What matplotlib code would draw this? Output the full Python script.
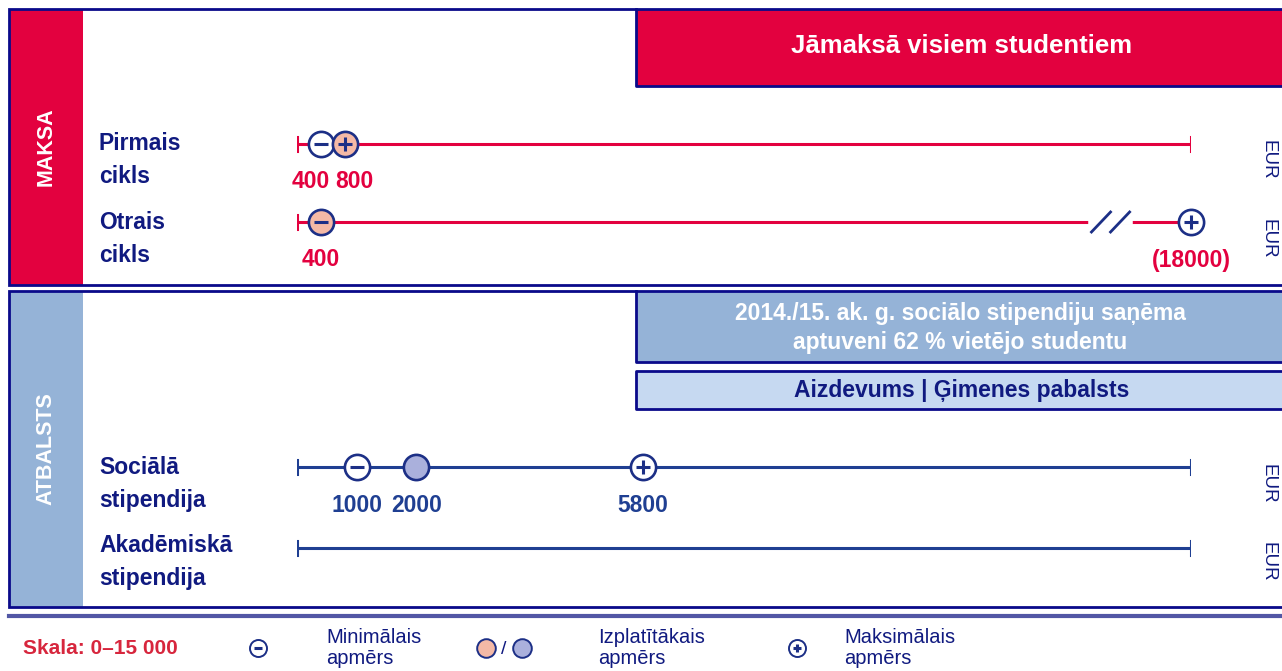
import matplotlib
matplotlib.use('Agg')
import matplotlib.pyplot as plt
from matplotlib.patches import Rectangle

# --- data ---
rows = ['Pirmais\ncikls', 'Otrais\ncikls', 'Sociālā\nstipendija', 'Akadēmiskā\nstipendija']
row_group = ['fee', 'fee', 'support', 'support']
min_vals = [400, 400, 1000, None]
common_vals = [800, 400, 2000, None]
max_vals = [800, 18000, 5800, None]
scale_max = 15000

W, H = 1282, 671
FONT = 'Liberation Sans'

RED = '#E3013F'
FRAME = '#0A0A8A'
TXT = '#101A80'
NAVY = '#1F3F92'
MARK = '#1C2F86'
LBLUE = '#95B3D7'
LLBLUE = '#C6D9F1'
PEACH = '#F4B9A6'
LAV = '#AAB0DC'

fig = plt.figure(figsize=(W / 100, H / 100), dpi=100)
ax = fig.add_axes([0, 0, 1, 1])
ax.set_xlim(0, W)
ax.set_ylim(H, 0)
ax.axis('off')


# --- frames ---
def frame(y0, y1, strip_color, label):
    ax.add_patch(Rectangle((9, y0), 74, y1 - y0, facecolor=strip_color, edgecolor='none', zorder=1))
    ax.plot([W, 9, 9, W], [y0, y0, y1, y1], color=FRAME, lw=2, zorder=3, solid_joinstyle='miter')
    ax.text(46, (y0 + y1) / 2, label, rotation=90, color='white', fontsize=15.5,
            fontweight='bold', family=FONT, ha='center', va='center')


frame(9, 285, RED, 'MAKSA')
frame(291, 607, LBLUE, 'ATBALSTS')

# header boxes
ax.add_patch(Rectangle((636, 9), W - 636, 77, facecolor=RED, edgecolor='none', zorder=1))
ax.plot([636, 636, W], [9, 86, 86], color=FRAME, lw=2, zorder=3)
ax.text(962, 46, 'Jāmaksā visiem studentiem', color='white', fontsize=18.5, fontweight='bold',
        family=FONT, ha='center', va='center')

ax.add_patch(Rectangle((636, 291), W - 636, 71, facecolor=LBLUE, edgecolor='none', zorder=1))
ax.plot([636, 636, W], [291, 362, 362], color=FRAME, lw=2, zorder=3)
ax.text(960, 328, '2014./15. ak. g. sociālo stipendiju saņēma\naptuveni 62 % vietējo studentu',
        color='white', fontsize=16.5, fontweight='bold', family=FONT, ha='center', va='center',
        linespacing=1.3)

ax.add_patch(Rectangle((636, 371), W - 636, 38, facecolor=LLBLUE, edgecolor='none', zorder=1))
ax.plot([W, 636, 636, W], [371, 371, 409, 409], color=FRAME, lw=2, zorder=3)
ax.text(962, 391, 'Aizdevums | Ģimenes pabalsts', color=TXT, fontsize=16.5, fontweight='bold',
        family=FONT, ha='center', va='center')

ax.plot([9, W], [616, 616], color='#5257A5', lw=3, zorder=3)

# --- scale rows ---
x0_px, x1_px = 297, 1191
px_per_unit = (x1_px - x0_px) / scale_max
dax = fig.add_axes([x0_px / W, 0, (x1_px - x0_px) / W, 1])
dax.set_xlim(0, scale_max)
dax.set_ylim(H, 0)
dax.axis('off')

row_y = [144, 222, 467, 548]
label_y = [181, 260, 505, None]
text_y = [160, 239, 484, 562]


def circle(x, y, fill, sign, axis, s=330, lw=1.9, sign_s=90):
    axis.scatter([x], [y], s=s, facecolor=fill, edgecolor=MARK, linewidths=lw, zorder=6,
                 clip_on=False)
    if sign:
        m = '_' if sign == '-' else '+'
        axis.scatter([x], [y], s=sign_s, marker=m, color=MARK, linewidths=2.2, zorder=7,
                     clip_on=False)


min_sep = 44 / px_per_unit  # keep neighbouring value labels apart

for i, name in enumerate(rows):
    y = row_y[i]
    fee = row_group[i] == 'fee'
    lc = RED if fee else NAVY
    fill = PEACH if fee else LAV
    numc = RED if fee else NAVY
    ax.text(99, text_y[i], name, color=TXT, fontsize=16.5, fontweight='bold', family=FONT,
            ha='left', va='center', linespacing=1.6)
    ax.text(1268, text_y[i], 'EUR', rotation=-90, color=TXT, fontsize=13.5, family=FONT,
            ha='center', va='center')
    dax.plot([0, scale_max], [y, y], color=lc, lw=2.2, zorder=4)
    for xv in (0, scale_max):
        dax.plot([xv, xv], [y - 7, y + 7], color=lc, lw=2.2, zorder=4)
    if min_vals[i] is None:
        continue
    mn, cm, mx = min_vals[i], common_vals[i], max_vals[i]
    mx_pos = min(mx, scale_max)
    if mx > scale_max:
        # axis break before the off-scale maximum
        bx = scale_max * 0.91
        dax.plot([bx - 330, bx + 330], [y, y], color='white', lw=4, zorder=4.5)
        for dx in (-160, 160):
            dax.plot([bx + dx - 160, bx + dx + 160], [y + 10, y - 10], color=MARK, lw=2, zorder=5)
    circle(mn, y, fill if cm == mn else 'white', '-', dax)
    if cm != mn and cm != mx:
        circle(cm, y, fill, None, dax)
    circle(mx_pos, y, fill if cm == mx else 'white', '+', dax)
    labels = [[mn, str(mn)]]
    if cm != mn and cm != mx:
        labels.append([cm, str(cm)])
    if mx != mn:
        labels.append([mx_pos, f'({mx})' if mx > scale_max else str(mx)])
    for a, b in zip(labels[:-1], labels[1:]):
        gap = b[0] - a[0]
        if gap < min_sep:
            a[0] -= (min_sep - gap) / 2
            b[0] += (min_sep - gap) / 2
    for xv, t in labels:
        dax.text(xv, label_y[i], t, color=numc, fontsize=16.5, fontweight='bold', family=FONT,
                 ha='center', va='center')

# --- legend ---
ax.text(23, 648, 'Skala: 0–15 000', color='#D7263D', fontsize=15, fontweight='bold',
        family=FONT, ha='left', va='center')
circle(258, 648, 'white', '-', ax, s=150, lw=1.4, sign_s=40)
ax.text(326, 648, 'Minimālais\napmērs', color=TXT, fontsize=14.5, family=FONT,
        ha='left', va='center', linespacing=1.1)
circle(486, 648, PEACH, None, ax, s=180, lw=1.4)
ax.text(504, 649, '/', color=TXT, fontsize=14, family=FONT, ha='center', va='center')
circle(522, 648, LAV, None, ax, s=180, lw=1.4)
ax.text(598, 648, 'Izplatītākais\napmērs', color=TXT, fontsize=14.5, family=FONT,
        ha='left', va='center', linespacing=1.1)
circle(797, 648, 'white', '+', ax, s=150, lw=1.4, sign_s=40)
ax.text(844, 648, 'Maksimālais\napmērs', color=TXT, fontsize=14.5, family=FONT,
        ha='left', va='center', linespacing=1.1)

fig.savefig('out.png', dpi=100)
